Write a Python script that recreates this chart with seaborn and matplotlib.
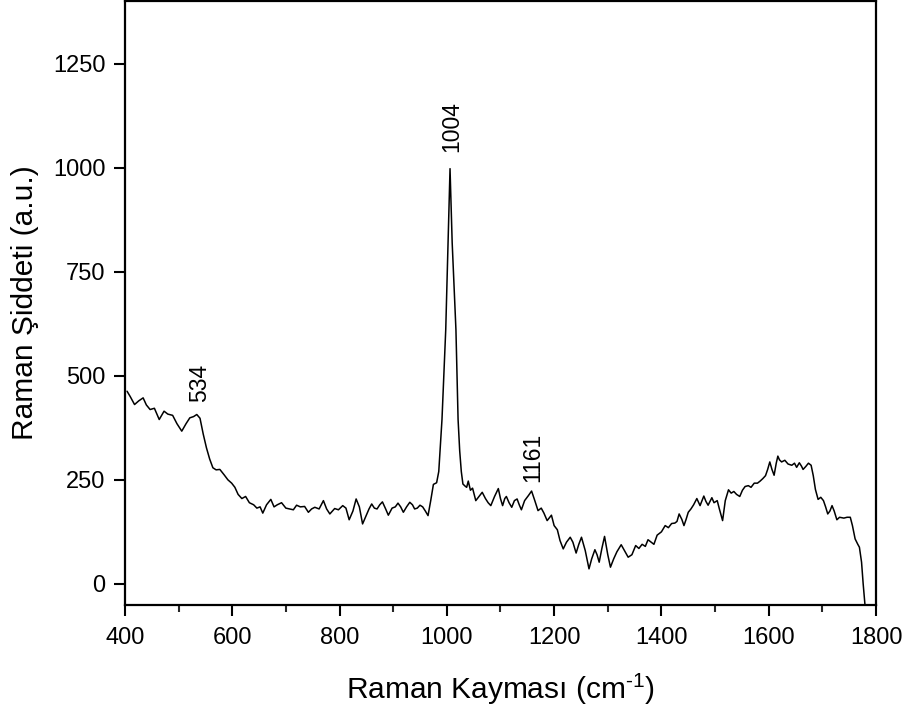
import numpy as np
import pandas as pd
import matplotlib
matplotlib.use("Agg")
import matplotlib.pyplot as plt
import seaborn as sns

# spectrum
shift = [404, 410, 418, 426, 434, 440, 447, 455, 464, 473, 480, 489, 497, 506,
         514, 521, 528, 534, 540, 546, 552, 558, 564, 570, 577, 585, 592, 599,
         605, 611, 618, 625, 632, 640, 646, 652, 657, 664, 672, 678, 684, 692,
         700, 707, 714, 720, 727, 735, 742, 748, 754, 762, 770, 776, 782, 791,
         798, 806, 812, 818, 825, 831, 837, 843, 850, 855, 860, 865, 870, 875,
         880, 886, 891, 898, 904, 909, 914, 919, 925, 931, 936, 940, 945, 950,
         955, 960, 965, 970, 975, 981, 985, 991, 998, 1002, 1006, 1010, 1017,
         1021, 1024, 1027, 1030, 1034, 1037, 1040, 1044, 1048, 1054, 1060, 1066,
         1072, 1077, 1082, 1089, 1096, 1100, 1104, 1108, 1111, 1116, 1121, 1126,
         1131, 1135, 1139, 1145, 1152, 1158, 1164, 1170, 1176, 1181, 1187, 1195,
         1200, 1206, 1211, 1217, 1223, 1230, 1235, 1241, 1246, 1251, 1258, 1265,
         1270, 1276, 1280, 1284, 1289, 1294, 1300, 1305, 1311, 1317, 1325, 1331,
         1338, 1345, 1352, 1358, 1364, 1370, 1375, 1381, 1386, 1392, 1400, 1407,
         1413, 1419, 1425, 1429, 1433, 1438, 1442, 1446, 1450, 1455, 1460, 1466,
         1472, 1479, 1483, 1487, 1494, 1498, 1504, 1508, 1514, 1519, 1525, 1530,
         1535, 1540, 1546, 1551, 1556, 1562, 1567, 1573, 1579, 1584, 1589, 1594,
         1598, 1602, 1606, 1610, 1614, 1617, 1620, 1624, 1630, 1636, 1643, 1648,
         1652, 1657, 1661, 1664, 1669, 1674, 1679, 1683, 1687, 1692, 1697, 1702,
         1706, 1710, 1714, 1718, 1722, 1727, 1732, 1740, 1746, 1752, 1756, 1761,
         1766, 1769, 1773, 1776, 1780]
intensity = [463, 450, 431, 440, 447, 430, 419, 422, 395, 415, 408, 405, 385, 367,
             385, 399, 402, 407, 398, 360, 327, 300, 279, 274, 275, 262, 250, 242,
             232, 215, 205, 210, 195, 190, 182, 185, 170, 190, 203, 185, 190, 195,
             182, 180, 178, 189, 185, 186, 172, 180, 184, 180, 200, 180, 168, 181,
             178, 188, 182, 154, 175, 204, 185, 144, 165, 180, 192, 182, 180, 190,
             197, 180, 165, 182, 185, 194, 185, 172, 185, 196, 190, 180, 182, 189,
             185, 175, 164, 200, 239, 243, 270, 395, 611, 800, 998, 820, 611,
             395, 320, 270, 240, 235, 232, 247, 225, 230, 200, 210, 220,
             205, 195, 188, 210, 229, 205, 188, 205, 210, 195, 184, 200,
             204, 190, 178, 200, 212, 223, 200, 176, 182, 170, 152, 165,
             140, 130, 104, 84, 100, 112, 100, 74, 95, 112, 80, 36,
             60, 82, 70, 52, 85, 114, 70, 40, 60, 77, 94, 80,
             64, 70, 92, 85, 95, 90, 106, 100, 95, 117, 125, 140,
             135, 145, 146, 150, 168, 155, 140, 155, 172, 180, 190, 205,
             188, 211, 198, 189, 207, 195, 200, 180, 152, 200, 226, 218,
             222, 215, 210, 225, 234, 236, 232, 242, 242, 247, 253, 260,
             275, 293, 275, 261, 290, 307, 298, 293, 297, 288, 285, 290,
             280, 291, 283, 275, 282, 290, 285, 260, 227, 203, 208, 200,
             185, 168, 175, 188, 175, 154, 160, 158, 160, 160, 140, 108,
             95, 88, 52, 0, -60]

peak_lab = ["534", "1004", "1161"]
peak_text_x = [540, 1010, 1161]
peak_text_y = [438, 1037, 244]

df = pd.DataFrame({"shift": shift, "intensity": intensity})

sns.set_style("ticks")
plt.rcParams["font.family"] = ["Liberation Sans", "DejaVu Sans"]
plt.rcParams["mathtext.fontset"] = "custom"
plt.rcParams["mathtext.rm"] = "Liberation Sans"
plt.rcParams["text.color"] = "black"
plt.rcParams["axes.labelcolor"] = "black"

fig = plt.figure(figsize=(9.05, 7.08), dpi=100)
ax = fig.add_axes([0.138, 0.146, 0.830, 0.852])

sns.lineplot(data=df, x="shift", y="intensity", color="black", linewidth=1.1,
             ax=ax, sort=False)

for x, y, s in zip(peak_text_x, peak_text_y, peak_lab):
    ax.text(x, y, s, rotation=90, ha="center", va="bottom", fontsize=16.5,
            color="black")

ax.set_xlim(400, 1800)
ax.set_ylim(-50, 1400)
ax.set_xticks(np.arange(400, 1801, 200))
ax.set_xticks(np.arange(500, 1800, 200), minor=True)
ax.set_yticks(np.arange(0, 1251, 250))

ax.set_xlabel("Raman Kayması (cm$^{\\text{-1}}$)", fontsize=21.5, labelpad=16)
ax.set_ylabel("Raman Şiddeti (a.u.)", fontsize=21.5, labelpad=10)

ax.tick_params(axis="both", which="major", direction="out", length=8, width=1.5,
               labelsize=17, color="black", labelcolor="black")
ax.tick_params(axis="x", which="major", pad=8)
ax.tick_params(axis="y", which="major", pad=6)
ax.tick_params(axis="x", which="minor", direction="out", length=5, width=1.5)
for sp in ax.spines.values():
    sp.set_visible(True)
    sp.set_linewidth(1.6)
    sp.set_color("black")

fig.savefig("out.png", dpi=100)
